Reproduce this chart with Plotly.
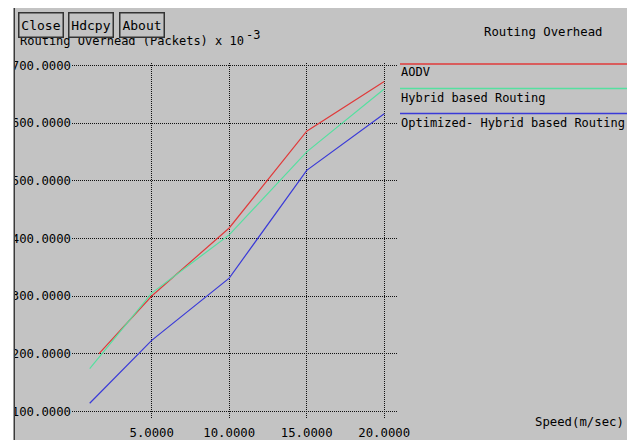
import plotly.graph_objects as go

# ---- data ----
speed = [1, 5, 10, 15, 20]
aodv_speed = [1.6, 5, 10, 15, 20]
aodv = [200, 300, 418, 586, 672]
hybrid = [174, 305, 406, 550, 659]
optimized = [114, 223, 331, 518, 616]
series_names = ["AODV", "Hybrid based Routing", "Optimized- Hybrid based Routing"]
series_colors = ["#e03a3a", "#55e0a0", "#3a3ad8"]
y_ticks = [100, 200, 300, 400, 500, 600, 700]
x_ticks = [5, 10, 15, 20]

# ---- geometry (window pixels; page body has an 8px margin) ----
OFF = 8
WIDTH, HEIGHT = 635 - OFF, 440 - OFF
L, R, T, B = 72, 397, 63, 418
PW, PH = R - L, B - T
BG = "#c3c3c3"
FONT = "DejaVu Sans Mono"
FS = 12.3

# data <-> window-pixel calibration
X0_PX, X_PER_UNIT = 74.2, 15.5
Y100_PX, Y_PER_UNIT = 411.3, 0.5765


def px(p):
    return (p - L) / PW


def py(q):
    return (B - q) / PH


fig = go.Figure()
for xs, ys, name, col in zip([aodv_speed, speed, speed], [aodv, hybrid, optimized],
                             series_names, series_colors):
    fig.add_trace(go.Scatter(x=xs, y=ys, mode="lines", name=name,
                             line=dict(color=col, width=1.2), showlegend=False))

shapes = []
annotations = []

# white window border on the left + dark left edge
shapes.append(dict(type="rect", xref="paper", yref="paper", x0=px(OFF), x1=px(14), y0=py(440), y1=py(OFF),
                   fillcolor="white", line=dict(width=0), layer="above"))
shapes.append(dict(type="rect", xref="paper", yref="paper", x0=px(13.5), x1=px(15), y0=py(440), y1=py(OFF),
                   fillcolor="#3a3a3a", line=dict(width=0), layer="above"))

# manual legend
legend_line_y = [64, 88.5, 113.5]
legend_text_y = [72.5, 98, 122.5]
for name, col, ly, ty in zip(series_names, series_colors, legend_line_y, legend_text_y):
    shapes.append(dict(type="line", xref="paper", yref="paper", x0=px(400), x1=px(640), y0=py(ly), y1=py(ly),
                       line=dict(color=col, width=1.5), layer="above"))
    annotations.append(dict(text=name, xref="paper", yref="paper", x=px(399), y=py(ty), xanchor="left",
                            yanchor="middle", showarrow=False, font=dict(family=FONT, size=12, color="black")))

# titles
annotations.append(dict(text="Routing Overhead", xref="paper", yref="paper", x=px(482), y=py(32.5),
                        xanchor="left", yanchor="middle", showarrow=False,
                        font=dict(family=FONT, size=FS, color="black")))
annotations.append(dict(text="Speed(m/sec)", xref="paper", yref="paper", x=px(626), y=py(422),
                        xanchor="right", yanchor="middle", showarrow=False,
                        font=dict(family=FONT, size=FS, color="black")))
annotations.append(dict(text="Routing Overhead (Packets) x 10", xref="paper", yref="paper",
                        x=px(18), y=py(41), xanchor="left", yanchor="middle", showarrow=False,
                        font=dict(family=FONT, size=12, color="black")))
annotations.append(dict(text="-3", xref="paper", yref="paper",
                        x=px(244), y=py(35), xanchor="left", yanchor="middle", showarrow=False,
                        font=dict(family=FONT, size=12, color="black")))

# buttons
for label, bx in [("Close", 18), ("Hdcpy", 68), ("About", 119)]:
    annotations.append(dict(text=label, xref="paper", yref="paper", x=px(bx), y=py(12), xanchor="left",
                            yanchor="top", showarrow=False, width=41, height=21, borderpad=1,
                            bordercolor="#333333", borderwidth=1.5, bgcolor=BG, align="center",
                            font=dict(family=FONT, size=13, color="black")))

fig.update_layout(
    width=WIDTH, height=HEIGHT,
    margin=dict(l=L - OFF, r=WIDTH - (R - OFF), t=T - OFF, b=HEIGHT - (B - OFF), pad=0, autoexpand=False),
    paper_bgcolor=BG, plot_bgcolor=BG,
    shapes=shapes, annotations=annotations,
    showlegend=False,
)
fig.update_xaxes(range=[(L - X0_PX) / X_PER_UNIT, (R - X0_PX) / X_PER_UNIT], automargin=False,
                 tickvals=x_ticks, tickformat=".4f", showgrid=True, gridcolor="#111111", griddash="1px,1px",
                 gridwidth=1, zeroline=False, showline=False, ticks="", ticklabelstandoff=6,
                 tickfont=dict(family=FONT, size=FS, color="black"))
fig.update_yaxes(range=[100 + (Y100_PX - B) / Y_PER_UNIT, 100 + (Y100_PX - T) / Y_PER_UNIT], automargin=False,
                 tickvals=y_ticks, tickformat=".4f", showgrid=True, gridcolor="#111111", griddash="1px,1px",
                 gridwidth=1, zeroline=False, showline=False, ticks="",
                 tickfont=dict(family=FONT, size=FS, color="black"))

fig.write_html("out.html")
